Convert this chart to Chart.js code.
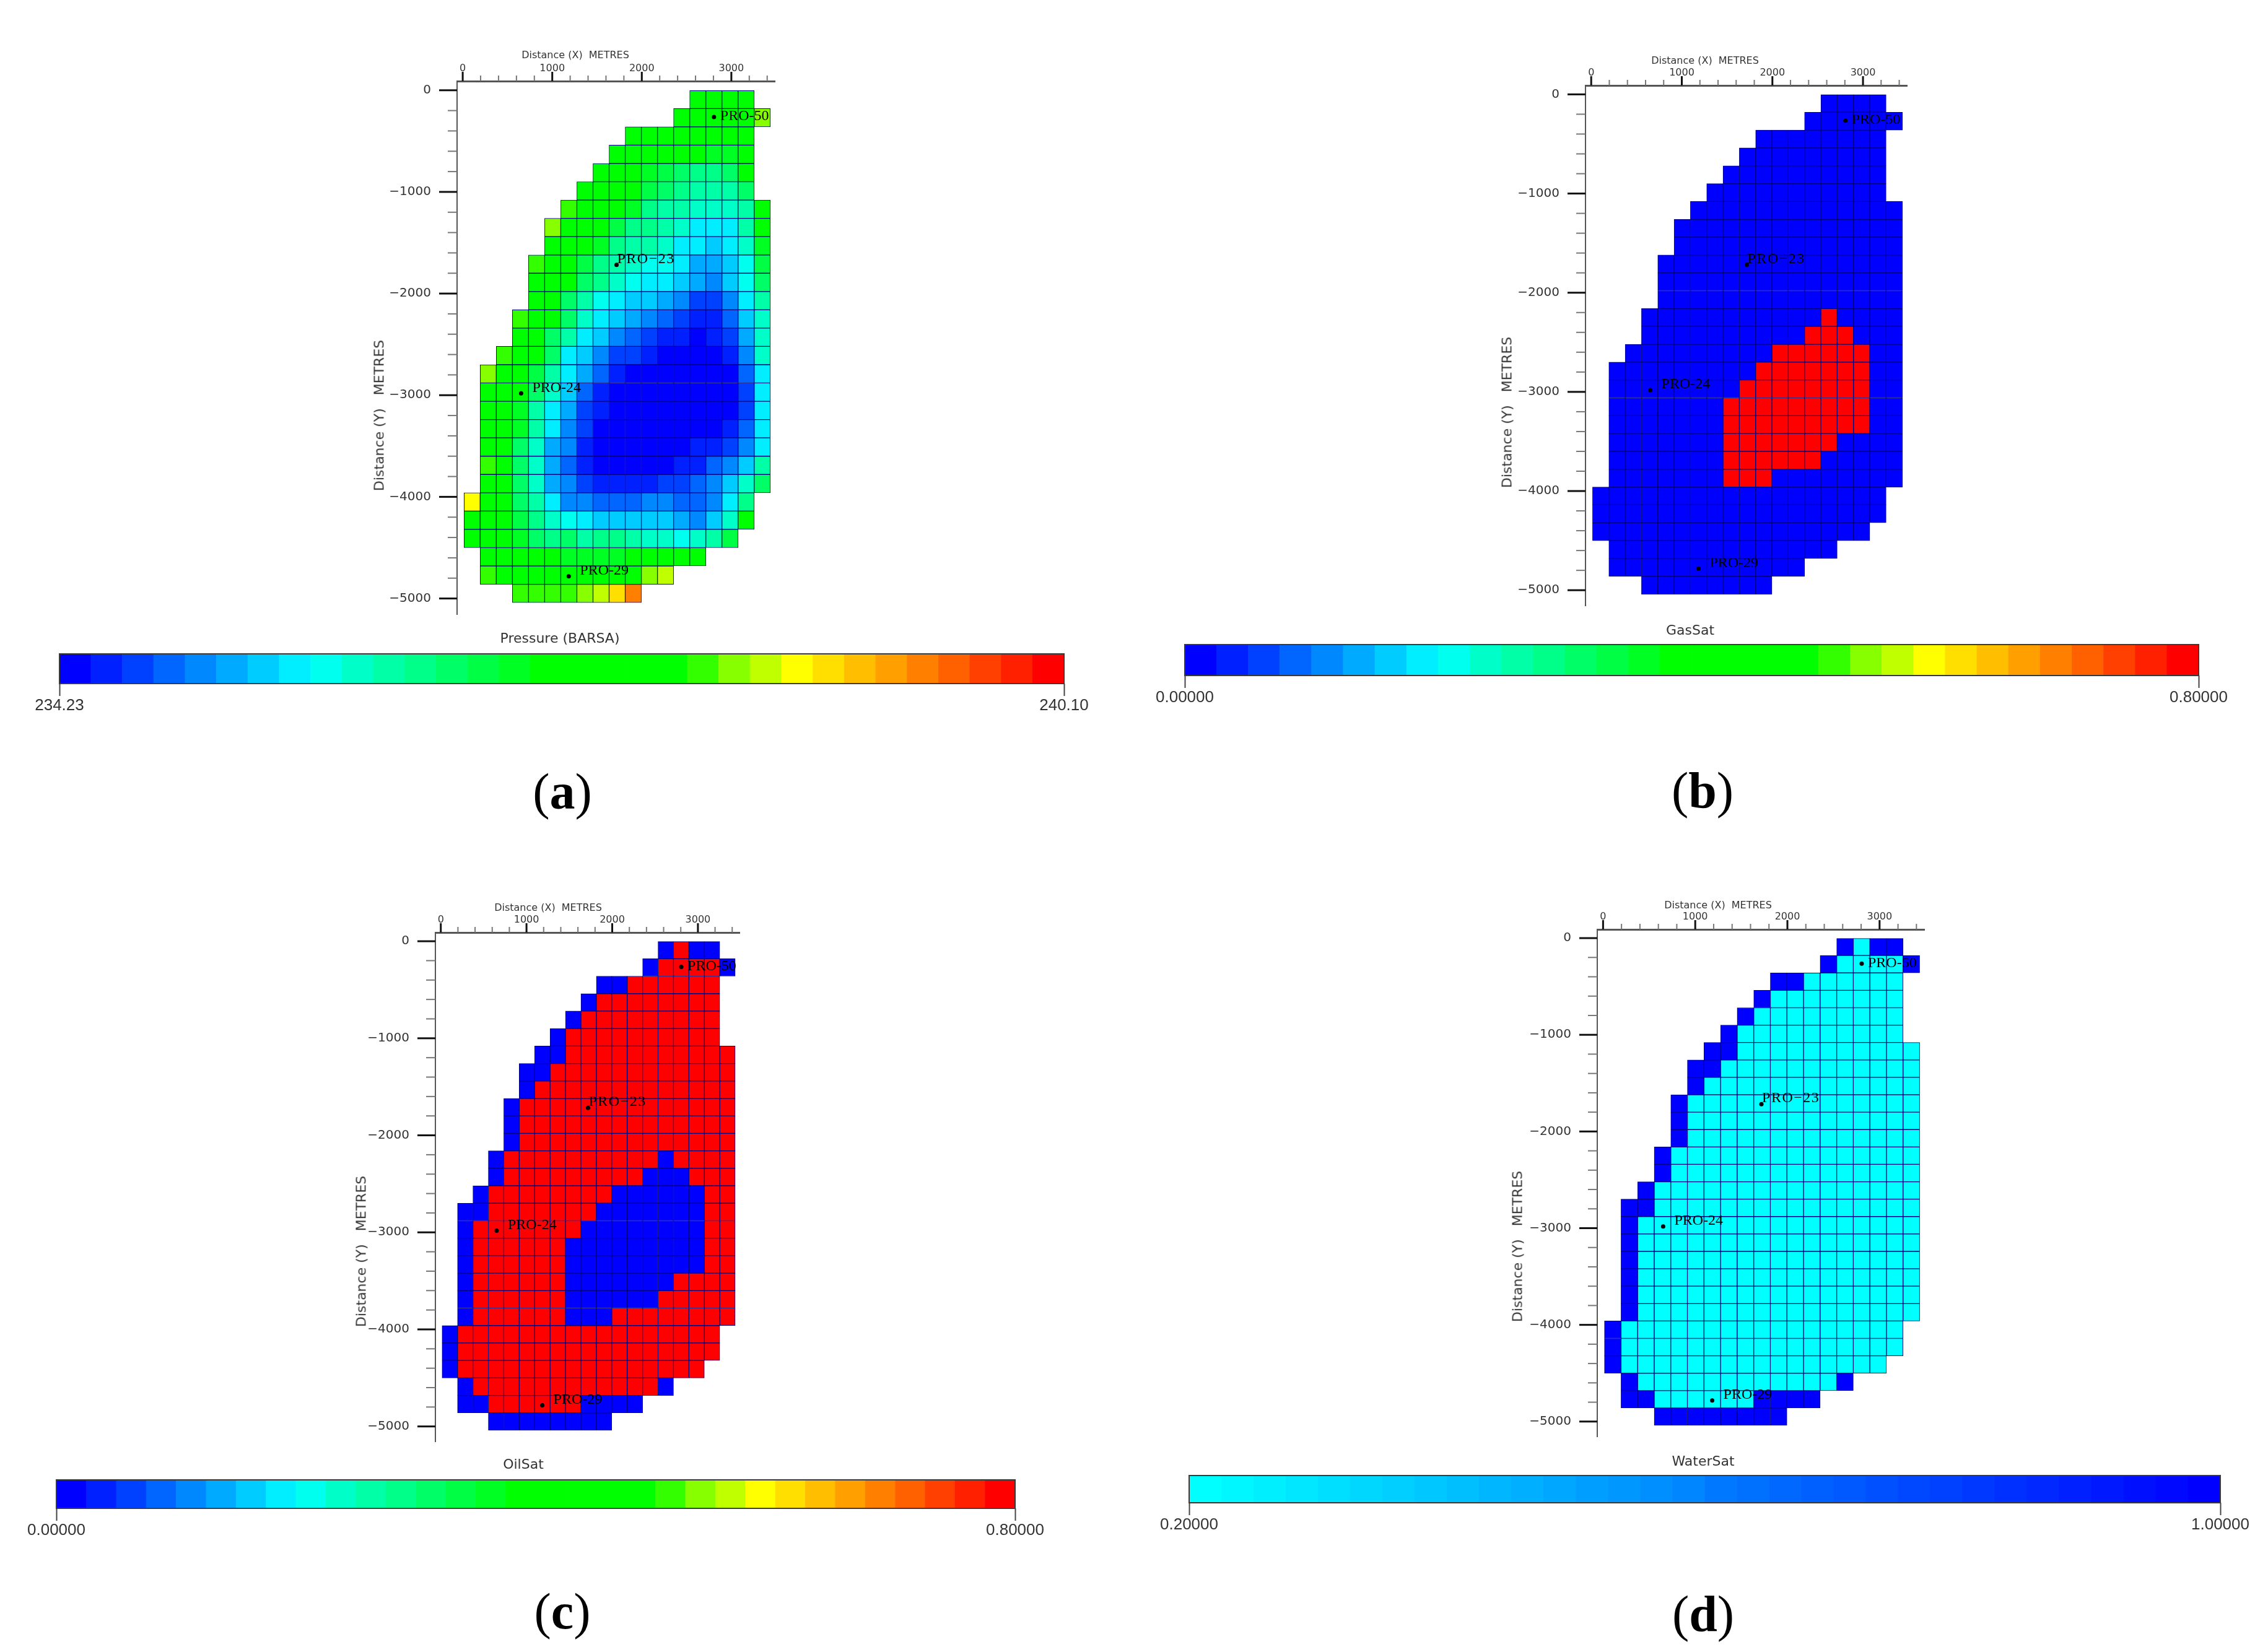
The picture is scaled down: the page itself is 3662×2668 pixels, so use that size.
<!DOCTYPE html>
<html>
<head>
<meta charset="utf-8">
<title>Pressure and saturation maps</title>
<script src="https://cdn.jsdelivr.net/npm/chart.js@4"></script>
<style>
    html, body { margin: 0; padding: 0; background: #fff; }
    #page { position: relative; width: 3662px; height: 2668px; overflow: hidden; }
    #page canvas { position: absolute; }
    .txt { position: absolute; white-space: pre; line-height: 1; transform: translate(-50%, -50%); color: #333; font-family: "DejaVu Sans"; }
    .cap { color: #000; font-family: "Liberation Serif"; font-size: 82px; }
</style>
</head>
<body>
<div id="page"></div>
<script>
// ============ data start =======
// grid blocks, metres
const colX = [105, 285, 465, 645, 825, 1005, 1185, 1365, 1545, 1725, 1905, 2085, 2265, 2445, 2625, 2805, 2985, 3165, 3345];
const rowTop = [0, -180, -360, -540, -720, -900, -1080, -1260, -1440, -1620, -1800, -1980, -2160, -2340,
    -2520, -2700, -2880, -3060, -3240, -3420, -3600, -3780, -3960, -4140, -4320, -4500, -4680, -4860];
const blockH = 180;
// first active column of each row
const rowStart = [14, 13, 10, 9, 8, 7, 6, 5, 5, 4, 4, 4, 3, 3, 2, 1, 1, 1, 1, 1, 1, 1, 0, 0, 0, 1, 1, 3];

// pressure, as colour bar class 0-31
const pressureRows = [
    [16, 16, 16, 16],
    [16, 16, 15, 16, 16, 21],
    [16, 16, 16, 16, 16, 15, 15, 15],
    [16, 16, 16, 16, 16, 15, 14, 14, 15],
    [16, 16, 15, 14, 13, 12, 11, 11, 12, 15],
    [16, 16, 15, 15, 13, 12, 11, 10, 10, 10, 12],
    [20, 16, 16, 15, 14, 11, 10, 10, 9, 9, 9, 10, 15],
    [21, 16, 16, 15, 13, 11, 11, 10, 9, 7, 7, 7, 10, 15],
    [16, 16, 15, 14, 11, 10, 10, 9, 7, 7, 6, 7, 9, 14],
    [20, 15, 15, 13, 11, 10, 9, 8, 8, 7, 5, 5, 6, 8, 13],
    [16, 15, 15, 12, 11, 9, 8, 7, 7, 6, 5, 4, 6, 8, 12],
    [16, 15, 12, 10, 8, 7, 6, 6, 5, 4, 2, 2, 4, 7, 10],
    [20, 16, 15, 12, 9, 7, 6, 5, 4, 3, 2, 1, 1, 3, 6, 9],
    [16, 16, 12, 10, 7, 6, 4, 3, 2, 1, 1, 0, 1, 2, 5, 9],
    [20, 16, 16, 12, 7, 6, 4, 2, 2, 1, 0, 0, 0, 0, 1, 4, 9],
    [21, 16, 15, 13, 10, 7, 5, 3, 1, 0, 0, 0, 0, 0, 0, 0, 3, 7],
    [16, 16, 15, 12, 9, 6, 3, 1, 0, 0, 0, 0, 0, 0, 0, 0, 2, 7],
    [16, 16, 14, 10, 7, 5, 2, 1, 0, 0, 0, 0, 0, 0, 0, 0, 2, 7],
    [16, 16, 14, 10, 7, 4, 2, 0, 0, 0, 0, 0, 0, 0, 0, 1, 3, 7],
    [16, 16, 12, 9, 5, 4, 1, 0, 0, 0, 0, 0, 0, 1, 1, 2, 4, 7],
    [20, 16, 12, 9, 5, 3, 1, 0, 0, 0, 0, 0, 1, 1, 3, 4, 6, 10],
    [16, 16, 12, 9, 5, 4, 2, 1, 1, 1, 1, 2, 2, 3, 4, 6, 9, 12],
    [23, 16, 16, 12, 10, 7, 4, 4, 3, 3, 3, 4, 4, 3, 3, 4, 7, 11],
    [16, 16, 16, 13, 11, 9, 8, 7, 6, 6, 6, 6, 6, 5, 4, 6, 9, 15],
    [16, 16, 16, 14, 12, 11, 12, 10, 11, 11, 10, 9, 9, 8, 9, 10, 13],
    [16, 16, 16, 16, 16, 14, 14, 14, 14, 15, 15, 15, 16, 15],
    [20, 16, 16, 16, 16, 15, 15, 15, 15, 16, 21, 22],
    [20, 20, 20, 20, 21, 22, 24, 27]
];

// saturations only sit at the two ends of the bar: L = class 0, H = class 31
const gasRows = [
    'LLLL', 'LLLLLL', 'LLLLLLLL', 'LLLLLLLLL', 'LLLLLLLLLL', 'LLLLLLLLLLL', 'LLLLLLLLLLLLL',
    'LLLLLLLLLLLLLL', 'LLLLLLLLLLLLLL', 'LLLLLLLLLLLLLLL', 'LLLLLLLLLLLLLLL', 'LLLLLLLLLLLLLLL',
    'LLLLLLLLLLLHLLLL', 'LLLLLLLLLLHHHLLL', 'LLLLLLLLLHHHHHHLL', 'LLLLLLLLLHHHHHHHLL',
    'LLLLLLLLHHHHHHHHLL', 'LLLLLLLHHHHHHHHHLL', 'LLLLLLLHHHHHHHHHLL', 'LLLLLLLHHHHHHHLLLL',
    'LLLLLLLHHHHHHLLLLL', 'LLLLLLLHHHLLLLLLLL', 'LLLLLLLLLLLLLLLLLL', 'LLLLLLLLLLLLLLLLLL',
    'LLLLLLLLLLLLLLLLL', 'LLLLLLLLLLLLLL', 'LLLLLLLLLLLL', 'LLLLLLLL'
];
const oilRows = [
    'LHLL', 'LHHHHL', 'LLHHHHHH', 'LHHHHHHHH', 'LHHHHHHHHH', 'LHHHHHHHHHH', 'LLHHHHHHHHHHH',
    'LLHHHHHHHHHHHH', 'LHHHHHHHHHHHHH', 'LHHHHHHHHHHHHHH', 'LHHHHHHHHHHHHHH', 'LHHHHHHHHHHHHHH',
    'LHHHHHHHHHHLHHHH', 'LHHHHHHHHHLLLHHH', 'LHHHHHHHHLLLLLLHH', 'LLHHHHHHHLLLLLLLHH',
    'LHHHHHHHLLLLLLLLHH', 'LHHHHHHLLLLLLLLLHH', 'LHHHHHHLLLLLLLLLHH', 'LHHHHHHLLLLLLLHHHH',
    'LHHHHHHLLLLLLHHHHH', 'LHHHHHHLLLHHHHHHHH', 'LHHHHHHHHHHHHHHHHH', 'LHHHHHHHHHHHHHHHHH',
    'LHHHHHHHHHHHHHHHH', 'LHHHHHHHHHHHHL', 'LLHHHHHHLLLL', 'LLLLLLLL'
];
const waterRows = [
    'HLHH', 'HLLLLH', 'HHLLLLLL', 'HLLLLLLLL', 'HLLLLLLLLL', 'HLLLLLLLLLL', 'HHLLLLLLLLLLL',
    'HHLLLLLLLLLLLL', 'HLLLLLLLLLLLLL', 'HLLLLLLLLLLLLLL', 'HLLLLLLLLLLLLLL', 'HLLLLLLLLLLLLLL',
    'HLLLLLLLLLLLLLLL', 'HLLLLLLLLLLLLLLL', 'HLLLLLLLLLLLLLLLL', 'HHLLLLLLLLLLLLLLLL',
    'HLLLLLLLLLLLLLLLLL', 'HLLLLLLLLLLLLLLLLL', 'HLLLLLLLLLLLLLLLLL', 'HLLLLLLLLLLLLLLLLL',
    'HLLLLLLLLLLLLLLLLL', 'HLLLLLLLLLLLLLLLLL', 'HLLLLLLLLLLLLLLLLL', 'HLLLLLLLLLLLLLLLLL',
    'HLLLLLLLLLLLLLLLL', 'HLLLLLLLLLLLLH', 'HHLLLLLLHHHH', 'HHHHHHHH'
];

const wellNames = ['PRO-50', 'PRO\u221223', 'PRO-24', 'PRO-29'];
const wellX = [2806, 1718, 652, 1184];
const wellY = [-264, -1717, -2982, -4782];

const barClasses = [0, 1, 2, 3, 4, 5, 6, 7, 8, 9, 10, 11, 12, 13, 14, 15, 16, 17, 18, 19, 20, 21, 22, 23, 24, 25, 26, 27, 28, 29, 30, 31];
const pressureTicks = ['234.23', '240.10'];
const gasTicks = ['0.00000', '0.80000'];
const oilTicks = ['0.00000', '0.80000'];
const waterTicks = ['0.20000', '1.00000'];
// ============ data end =======

// colour bars
const rainbow = ['#0000ff', '#0020ff', '#0040ff', '#0066ff', '#0088ff', '#00aaff', '#00ccff', '#00eeff',
    '#00ffee', '#00ffc8', '#00ffa6', '#00ff88', '#00ff66', '#00ff44', '#00ff22', '#00ff00',
    '#00ff00', '#00ff00', '#00ff00', '#00ff00', '#33ff00', '#88ff00', '#bfff00', '#ffff00',
    '#ffdf00', '#ffbf00', '#ff9f00', '#ff8000', '#ff6000', '#ff4000', '#ff2000', '#ff0000'];
const cyanBlue = ['#00ffff', '#00f7ff', '#00efff', '#00e7ff', '#00dfff', '#00d7ff', '#00cfff', '#00c7ff',
    '#00bfff', '#00b7ff', '#00afff', '#00a7ff', '#009fff', '#0097ff', '#008fff', '#0087ff',
    '#0078ff', '#0070ff', '#0068ff', '#0060ff', '#0058ff', '#0050ff', '#0048ff', '#0040ff',
    '#0038ff', '#0030ff', '#0028ff', '#0020ff', '#0018ff', '#0010ff', '#0008ff', '#0000ff'];

// pixel layout of the four panels
const panels = [
    {
        rows: pressureRows, colours: rainbow, ticks: pressureTicks, barTitle: 'Pressure (BARSA)', caption: 'a',
        box: [738, 1251, 131, 992], bar: [96, 1718, 1056, 1104],
        xTitle: [929, 88], yTitle: [612, 671], barTitleAt: [904, 1030], captionAt: [908, 1279]
    },
    {
        rows: gasRows, colours: rainbow, ticks: gasTicks, barTitle: 'GasSat', caption: 'b',
        box: [2560, 3079, 138, 978], bar: [1913, 3550, 1041, 1091],
        xTitle: [2753, 97], yTitle: [2433, 666], barTitleAt: [2729, 1017], captionAt: [2749, 1277]
    },
    {
        rows: oilRows, colours: rainbow, ticks: oilTicks, barTitle: 'OilSat', caption: 'c',
        box: [703, 1194, 1506, 2328], bar: [91, 1639, 2390, 2436],
        xTitle: [885, 1465], yTitle: [583, 2021], barTitleAt: [845, 2364], captionAt: [908, 2603]
    },
    {
        rows: waterRows, colours: cyanBlue, ticks: waterTicks, barTitle: 'WaterSat', caption: 'd',
        box: [2579, 3107, 1501, 2320], bar: [1920, 3585, 2383, 2427],
        xTitle: [2774, 1461], yTitle: [2450, 2013], barTitleAt: [2750, 2359], captionAt: [2750, 2607]
    }
];

const xLimits = [-63, 3485];
const yLimits = [-5155, 90];
const page = document.getElementById('page');

function addText(text, at, font, rotate) {
    const el = document.createElement('div');
    el.className = 'txt';
    el.textContent = text;
    el.style.left = at[0] + 'px';
    el.style.top = at[1] + 'px';
    el.style.font = font;
    if (rotate) {
        el.style.transform = 'translate(-50%, -50%) rotate(-90deg)';
    }
    page.appendChild(el);
    return el;
}

function addCanvas(left, top, w, h) {
    const canvas = document.createElement('canvas');
    canvas.width = w;
    canvas.height = h;
    canvas.style.left = left + 'px';
    canvas.style.top = top + 'px';
    canvas.style.width = w + 'px';
    canvas.style.height = h + 'px';
    page.appendChild(canvas);
    return canvas.getContext('2d');
}

// long and short tick marks on both map axes
const mapTicks = {
    id: 'mapTicks',
    afterDraw(chart) {
        const ctx = chart.ctx;
        const area = chart.chartArea;
        ctx.save();
        chart.scales.x.ticks.forEach(t => {
            const big = t.value % 1000 === 0;
            const px = chart.scales.x.getPixelForValue(t.value);
            ctx.strokeStyle = big ? '#111' : '#777';
            ctx.lineWidth = big ? 3 : 2;
            ctx.beginPath();
            ctx.moveTo(px, area.top);
            ctx.lineTo(px, area.top - (big ? 15 : 9));
            ctx.stroke();
        });
        chart.scales.y.ticks.forEach(t => {
            const big = t.value % 1000 === 0;
            const py = chart.scales.y.getPixelForValue(t.value);
            ctx.strokeStyle = big ? '#111' : '#777';
            ctx.lineWidth = big ? 3 : 2;
            ctx.beginPath();
            ctx.moveTo(area.left, py);
            ctx.lineTo(area.left - (big ? 29 : 15), py);
            ctx.stroke();
        });
        ctx.restore();
    }
};

// well names beside the dots
const wellLabels = {
    id: 'wellLabels',
    afterDatasetsDraw(chart) {
        const ctx = chart.ctx;
        const shift = [[10, -1], [1, -9], [18, -9], [18, -9]];
        const points = chart.getDatasetMeta(1).data;
        ctx.save();
        ctx.font = '24px "Liberation Serif"';
        ctx.fillStyle = '#000';
        ctx.textBaseline = 'middle';
        wellNames.forEach((name, i) => {
            // PRO-23 is set wider than the others in the picture
            ctx.letterSpacing = i === 1 ? '1.5px' : '0px';
            ctx.fillText(name, points[i].x + shift[i][0], points[i].y + shift[i][1]);
        });
        ctx.restore();
    }
};

// dark frame round the colour bar
const barFrame = {
    id: 'barFrame',
    afterDraw(chart) {
        const a = chart.chartArea;
        const ctx = chart.ctx;
        ctx.save();
        ctx.strokeStyle = '#3a3a3a';
        ctx.lineWidth = 2;
        ctx.strokeRect(a.left, a.top, a.right - a.left, a.bottom - a.top);
        ctx.restore();
    }
};

function tickText(value) {
    if (value % 1000 !== 0) {
        return '';
    }
    return value < 0 ? '\u2212' + Math.abs(value) : String(Math.abs(value));
}

function drawMap(p) {
    const yWidth = 200;
    const xHeight = 80;
    const padRight = 10;
    const padBottom = 70; // has to stay above the y tick padding or the axis shrinks
    const w = p.box[1] - p.box[0];
    const h = p.box[3] - p.box[2];
    const ctx = addCanvas(p.box[0] - yWidth, p.box[2] - xHeight, w + yWidth + padRight, h + xHeight + padBottom);

    const cells = [];
    p.rows.forEach((row, r) => {
        for (let i = 0; i < row.length; i++) {
            const v = row[i];
            cells.push({
                x: colX[rowStart[r] + i],
                y: [rowTop[r] - blockH, rowTop[r]],
                level: v === 'L' ? 0 : v === 'H' ? 31 : v
            });
        }
    });
    const wells = wellNames.map((name, i) => ({ x: wellX[i], y: wellY[i] }));

    new Chart(ctx, {
        type: 'bar',
        data: {
            datasets: [{
                label: p.barTitle,
                data: cells,
                order: 2,
                grouped: false,
                categoryPercentage: 1,
                barPercentage: 1,
                borderSkipped: false,
                borderWidth: 1,
                borderColor: '#000080',
                backgroundColor: c => p.colours[c.raw.level]
            }, {
                type: 'scatter',
                label: 'wells',
                data: wells,
                order: 1,
                pointStyle: 'circle',
                pointRadius: 3.5,
                pointBackgroundColor: '#000',
                pointBorderWidth: 0
            }]
        },
        options: {
            responsive: false,
            animation: false,
            layout: { autoPadding: false, padding: { right: padRight, bottom: padBottom } },
            plugins: { legend: { display: false }, tooltip: { enabled: false }, title: { display: false } },
            scales: {
                x: {
                    type: 'linear',
                    position: 'top',
                    offset: false,
                    min: xLimits[0],
                    max: xLimits[1],
                    afterFit: s => { s.height = xHeight; },
                    grid: { display: true, drawOnChartArea: false, drawTicks: false, offset: false },
                    border: { display: true, color: '#555', width: 3 },
                    ticks: {
                        stepSize: 200,
                        includeBounds: false,
                        autoSkip: false,
                        maxRotation: 0,
                        padding: 11,
                        color: '#333',
                        font: { family: 'DejaVu Sans', size: 16 },
                        callback: tickText
                    }
                },
                y: {
                    type: 'linear',
                    position: 'left',
                    min: yLimits[0],
                    max: yLimits[1],
                    beginAtZero: false,
                    afterFit: s => { s.width = yWidth; },
                    grid: { display: true, drawOnChartArea: false, drawTicks: false },
                    border: { display: true, color: '#555', width: 2 },
                    ticks: {
                        stepSize: 200,
                        includeBounds: false,
                        autoSkip: false,
                        padding: 42,
                        color: '#333',
                        font: { family: 'DejaVu Sans', size: 20 },
                        callback: tickText
                    }
                }
            }
        },
        plugins: [mapTicks, wellLabels]
    });
}

function drawBar(p) {
    const side = 80;
    const axisH = 60;
    const top = 4;
    const w = p.bar[1] - p.bar[0];
    const h = p.bar[3] - p.bar[2];
    const ctx = addCanvas(p.bar[0] - side, p.bar[2] - top, w + side * 2, h + top + axisH);

    new Chart(ctx, {
        type: 'bar',
        data: {
            datasets: [{
                label: p.barTitle,
                data: barClasses.map(k => ({ x: k + 0.5, y: [0, 1], level: k })),
                categoryPercentage: 1,
                barPercentage: 1,
                borderWidth: 0,
                backgroundColor: c => p.colours[c.raw.level]
            }]
        },
        options: {
            responsive: false,
            animation: false,
            layout: { autoPadding: false, padding: { left: side, right: side, top: top } },
            plugins: { legend: { display: false }, tooltip: { enabled: false }, title: { display: false } },
            scales: {
                x: {
                    type: 'linear',
                    position: 'bottom',
                    offset: false,
                    min: 0,
                    max: barClasses.length,
                    afterBuildTicks: s => { s.ticks = [{ value: 0 }, { value: barClasses.length }]; },
                    afterFit: s => { s.height = axisH; },
                    grid: { display: true, drawOnChartArea: false, drawTicks: true, tickLength: 20, tickColor: '#444', tickWidth: 2, offset: false },
                    border: { display: false },
                    ticks: {
                        autoSkip: false,
                        maxRotation: 0,
                        padding: 0,
                        color: '#333',
                        font: { family: 'Liberation Sans', size: 26 },
                        callback: v => (v === 0 ? p.ticks[0] : p.ticks[1])
                    }
                },
                y: { display: false, min: 0, max: 1, beginAtZero: false }
            }
        },
        plugins: [barFrame]
    });
}

panels.forEach(p => {
    drawMap(p);
    drawBar(p);
    addText('Distance (X)  METRES', p.xTitle, '16px "DejaVu Sans"');
    addText('Distance (Y)   METRES', p.yTitle, '22px "DejaVu Sans"', true);
    addText(p.barTitle, p.barTitleAt, '22px "DejaVu Sans"');
    const cap = addText('', p.captionAt, '');
    cap.className = 'txt cap';
    cap.style.font = '';
    cap.innerHTML = '(<b>' + p.caption + '</b>)';
});
</script>
</body>
</html>
